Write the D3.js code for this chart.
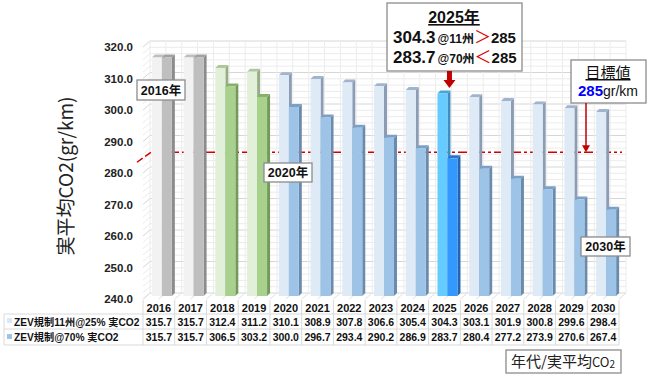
<!DOCTYPE html>
<html>
<head>
<meta charset="utf-8">
<script src="https://cdn.jsdelivr.net/npm/d3@7"></script>
<style>
  body { margin: 0; background: #fff; }
  svg text { font-family: "Liberation Sans", Arial, "Noto Sans CJK JP", sans-serif; }
  .jp { font-family: "Noto Sans CJK JP", "Liberation Sans", sans-serif; }
</style>
</head>
<body>
<div id="chart"></div>
<script>
// chart values
const years = [2016, 2017, 2018, 2019, 2020, 2021, 2022, 2023, 2024, 2025, 2026, 2027, 2028, 2029, 2030];
const zev11 = [315.7, 315.7, 312.4, 311.2, 310.1, 308.9, 307.8, 306.6, 305.4, 304.3, 303.1, 301.9, 300.8, 299.6, 298.4];
const zev70 = [315.7, 315.7, 306.5, 303.2, 300.0, 296.7, 293.4, 290.2, 286.9, 283.7, 280.4, 277.2, 273.9, 270.6, 267.4];
const yTicks = [240, 250, 260, 270, 280, 290, 300, 310, 320];
const seriesNames = ["ZEV規制11州@25% 実CO2", "ZEV規制@70% 実CO2"];
const target = 285;

const width = 650, height = 374;
const dx = 7, dy = -6;   // depth of the 3d back wall
const bd = 3;            // depth of each bar

// colour for each year: [light front, light side, dark front, dark side]
function barColors(yr)
{
	if (yr <= 2017) return ["#f2f2f2", "#a6a6a6", "#bfbfbf", "#8c8c8c"];
	if (yr <= 2019) return ["#e2efd9", "#97ad88", "#a9d18e", "#739a5a"];
	if (yr === 2025) return ["#66ccff", "#3d8fc0", "#3399ff", "#2266b0"];
	return ["#deebf7", "#8b9cb3", "#9dc3e6", "#6a8bad"];
}

const svg = d3.select("#chart").append("svg")
	.attr("width", width)
	.attr("height", height);

const x = d3.scaleBand().domain(years).range([143, 619]);
const bw = x.bandwidth();
const y = d3.scaleLinear().domain([240, 320]).range([299, 47]);     // front plane
const yb = d3.scaleLinear().domain([240, 320]).range([296, 44]);    // bars sit mid depth

// back wall + side wall grid
const grid = svg.append("g");
const minor = d3.range(240, 321, 2);
grid.selectAll(".hback").data(minor).enter().append("line")
	.attr("x1", 143 + dx).attr("x2", 619 + dx)
	.attr("y1", d => y(d) + dy).attr("y2", d => y(d) + dy)
	.attr("stroke", d => d % 10 === 0 ? "#d6d6d6" : "#ececec")
	.attr("stroke-width", 1);
grid.selectAll(".hside").data(minor).enter().append("line")
	.attr("x1", 143).attr("x2", 143 + dx)
	.attr("y1", d => y(d)).attr("y2", d => y(d) + dy)
	.attr("stroke", d => d % 10 === 0 ? "#d6d6d6" : "#ececec");
const vpos = d3.range(0, years.length * 2 + 1).map(k => 143 + k * bw / 2);
grid.selectAll(".vback").data(vpos).enter().append("line")
	.attr("x1", d => d + dx).attr("x2", d => d + dx)
	.attr("y1", y(320) + dy).attr("y2", y(240) + dy)
	.attr("stroke", "#ececec");
grid.selectAll(".vfloor").data(vpos).enter().append("line")
	.attr("x1", d => d).attr("x2", d => d + dx)
	.attr("y1", y(240)).attr("y2", y(240) + dy)
	.attr("stroke", "#e0e0e0");

// y axis labels
svg.selectAll(".ytick").data(yTicks).enter().append("text")
	.attr("x", 133).attr("y", d => y(d) + 4)
	.attr("text-anchor", "end")
	.style("font-size", "11.5px").style("font-weight", "bold").style("fill", "#222")
	.text(d => d.toFixed(1));

svg.append("text").attr("class", "jp")
	.attr("transform", "translate(73,176) rotate(-90)")
	.attr("text-anchor", "middle")
	.style("font-size", "19px").style("fill", "#222")
	.text("実平均CO2(gr/km)");

// target dashed line
const ty = yb(target) - 2;
svg.append("line")
	.attr("x1", 152).attr("x2", 622).attr("y1", ty).attr("y2", ty)
	.attr("stroke", "#d00000").attr("stroke-width", 1.5)
	.attr("stroke-dasharray", "9,3,3,3");
svg.append("line")
	.attr("x1", 137).attr("x2", 151).attr("y1", ty + 10).attr("y2", ty)
	.attr("stroke", "#d00000").attr("stroke-width", 1.5)
	.attr("stroke-dasharray", "7,3");

// 3d bar helper
function bar3d(g, x0, w, v, front, side)
{
	const top = yb(v), base = yb(240);
	g.append("path")
		.attr("d", `M${x0 + w},${top} L${x0 + w + bd},${top - bd} L${x0 + w + bd},${base - bd} L${x0 + w},${base} Z`)
		.attr("fill", side);
	g.append("path")
		.attr("d", `M${x0},${top} L${x0 + bd},${top - bd} L${x0 + w + bd},${top - bd} L${x0 + w},${top} Z`)
		.attr("fill", d3.color(side).brighter(0.4));
	g.append("rect")
		.attr("x", x0).attr("y", top).attr("width", w).attr("height", base - top)
		.attr("fill", front);
}

const bars = svg.append("g");
years.forEach((yr, i) =>
{
	const c = x(yr) + bw / 2;
	const col = barColors(yr);
	bar3d(bars, c - 7, 10, zev11[i], col[0], col[1]);
	bar3d(bars, c + 3, 10, zev70[i], col[2], col[3]);
});

// table under the chart
const tbl = svg.append("g");
tbl.selectAll(".hl").data([314, 329, 345]).enter().append("line")
	.attr("x1", 4).attr("x2", 619).attr("y1", d => d).attr("y2", d => d)
	.attr("stroke", "#d9d9d9");
tbl.append("line").attr("x1", 4).attr("x2", 4).attr("y1", 314).attr("y2", 345).attr("stroke", "#d9d9d9");
tbl.selectAll(".vl").data(d3.range(0, years.length + 1)).enter().append("line")
	.attr("x1", d => 143 + d * bw).attr("x2", d => 143 + d * bw)
	.attr("y1", 300).attr("y2", 345)
	.attr("stroke", "#d9d9d9");
tbl.selectAll(".yr").data(years).enter().append("text")
	.attr("x", d => x(d) + bw / 2).attr("y", 312)
	.attr("text-anchor", "middle")
	.style("font-size", "11px").style("font-weight", "bold").style("fill", "#111")
	.text(d => d);
[zev11, zev70].forEach((vals, r) =>
{
	tbl.selectAll(".v" + r).data(vals).enter().append("text")
		.attr("x", (d, i) => x(years[i]) + bw / 2).attr("y", r === 0 ? 326 : 341)
		.attr("text-anchor", "middle")
		.style("font-size", "10.5px").style("font-weight", "bold").style("fill", "#111")
		.text(d => d.toFixed(1));
	tbl.append("rect")
		.attr("x", 7).attr("y", r === 0 ? 318 : 334).attr("width", 5).attr("height", 5)
		.attr("fill", r === 0 ? "#dae8f5" : "#9dc3e6");
	tbl.append("text")
		.attr("x", 14).attr("y", r === 0 ? 326 : 341)
		.style("font-size", "10.2px").style("font-weight", "bold").style("fill", "#111")
		.text(seriesNames[r]);
});

// year call-out boxes
function labelBox(x0, y0, w, h, txt)
{
	svg.append("rect").attr("x", x0).attr("y", y0).attr("width", w).attr("height", h)
		.attr("fill", "#fff").attr("stroke", "#8c8c8c").attr("stroke-width", 1.3);
	svg.append("text")
		.attr("x", x0 + w / 2).attr("y", y0 + h / 2 + 4.5)
		.attr("text-anchor", "middle")
		.style("font-size", "12.5px").style("font-weight", "bold").style("fill", "#111")
		.text(txt);
}
labelBox(137, 80, 48, 20, "2016年");
labelBox(264, 163, 48, 19, "2020年");
labelBox(581, 237, 49, 19, "2030年");

// 2025 box
svg.append("rect").attr("x", 387).attr("y", 3).attr("width", 135).attr("height", 68)
	.attr("fill", "#fff").attr("stroke", "#8c8c8c").attr("stroke-width", 1.3);
svg.append("text")
	.attr("x", 454).attr("y", 23).attr("text-anchor", "middle")
	.style("font-size", "16px").style("font-weight", "bold").style("fill", "#111")
	.style("text-decoration", "underline")
	.text("2025年");
function cmpLine(yy, val, st, op)
{
	const t = svg.append("text").attr("x", 393).attr("y", yy)
		.style("font-weight", "bold").style("fill", "#111");
	t.append("tspan").style("font-size", "17px").text(val);
	t.append("tspan").style("font-size", "12px").attr("dx", 2).text(st);
	t.append("tspan").style("font-size", "17px").style("font-weight", "normal").style("fill", "#e00000").text(op);
	t.append("tspan").style("font-size", "15px").text(target);
}
cmpLine(43, zev11[9].toFixed(1), "@11州", "＞");
cmpLine(63, zev70[9].toFixed(1), "@70州", "＜");

// thick red arrow under the 2025 box
const ax = x(2025) + bw / 2 + 5;
svg.append("path")
	.attr("d", `M${ax - 2.5},71 L${ax + 2.5},71 L${ax + 2.5},80 L${ax + 6},80 L${ax},88 L${ax - 6},80 L${ax - 2.5},80 Z`)
	.attr("fill", "#c00000");

// target box
svg.append("rect").attr("x", 571).attr("y", 60).attr("width", 75).attr("height", 43)
	.attr("fill", "#fff").attr("stroke", "#8c8c8c").attr("stroke-width", 1.3);
svg.append("text").attr("class", "jp")
	.attr("x", 608).attr("y", 78).attr("text-anchor", "middle")
	.style("font-size", "15px").style("fill", "#111")
	.style("text-decoration", "underline")
	.text("目標値");
const tt = svg.append("text").attr("x", 608).attr("y", 96).attr("text-anchor", "middle");
tt.append("tspan").style("font-size", "15px").style("font-weight", "bold").style("fill", "#0000ff").text(target);
tt.append("tspan").style("font-size", "14px").style("fill", "#111").text("gr/km");

svg.append("line").attr("x1", 586).attr("x2", 586).attr("y1", 103).attr("y2", ty - 5)
	.attr("stroke", "#c00000").attr("stroke-width", 1.5);
svg.append("path")
	.attr("d", `M582,${ty - 7} L590,${ty - 7} L586,${ty} Z`)
	.attr("fill", "#c00000");

// axis caption box
svg.append("rect").attr("x", 506).attr("y", 350).attr("width", 115).attr("height", 23)
	.attr("fill", "#fff").attr("stroke", "#8c8c8c").attr("stroke-width", 1.3);
const cap = svg.append("text").attr("class", "jp").attr("x", 563).attr("y", 367)
	.attr("text-anchor", "middle").style("fill", "#222");
cap.append("tspan").style("font-size", "15px").text("年代/実平均");
cap.append("tspan").style("font-size", "13px").text("CO");
cap.append("tspan").style("font-size", "10px").attr("dy", 1).text("2");
</script>
</body>
</html>
